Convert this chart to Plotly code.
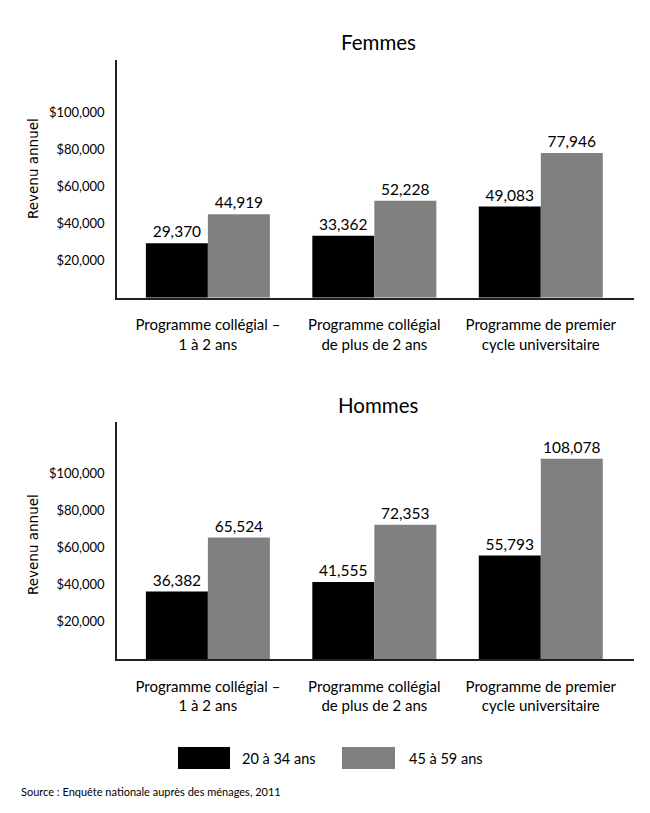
import plotly.graph_objects as go

categories = ["Programme collégial –<br>1 à 2 ans",
              "Programme collégial<br>de plus de 2 ans",
              "Programme de premier<br>cycle universitaire"]
series_names = ["20 à 34 ans", "45 à 59 ans"]
femmes_jeunes = [29370, 33362, 49083]
femmes_agees = [44919, 52228, 77946]
hommes_jeunes = [36382, 41555, 55793]
hommes_ages = [65524, 72353, 108078]
panel_titles = ["Femmes", "Hommes"]
y_title = "Revenu annuel"
y_ticks = [20000, 40000, 60000, 80000, 100000]
y_ticktext = ["$20,000", "$40,000", "$60,000", "$80,000", "$100,000"]
source_text = "Source : Enquête nationale auprès des ménages, 2011"

colors = ["#000000", "#808080"]
FONT = "Lato"
W, H = 650, 813

def px(v): return v / W
def py(v): return 1 - v / H

fig = go.Figure()
xs = list(range(len(categories)))
panels = [(femmes_jeunes, femmes_agees), (hommes_jeunes, hommes_ages)]
for i, (a, b) in enumerate(panels):
    ax = "" if i == 0 else "2"
    for j, vals in enumerate((a, b)):
        fig.add_trace(go.Bar(
            x=xs, y=vals, name=series_names[j], marker_color=colors[j],
            marker_line_width=0, text=[f"{v:,}" for v in vals],
            textposition="outside", textfont=dict(family=FONT, size=15.5, color="#000"),
            cliponaxis=False, showlegend=False, hoverinfo="skip",
            xaxis="x" + ax, yaxis="y" + ax))

panel_px = [(60, 297.7), (421.7, 659)]
common_x = dict(range=[-0.546, 2.56], tickvals=xs, ticktext=categories,
                showline=True, linecolor="#222", linewidth=1.5, ticks="",
                showgrid=False, zeroline=False, ticklabelstandoff=13,
                tickfont=dict(family=FONT, size=15, color="#000"),
                domain=[px(117), px(634)], fixedrange=True)
common_y = dict(range=[0, 128000], tickmode="array", tickvals=y_ticks, ticktext=y_ticktext,
                showline=True, linecolor="#222", linewidth=1.5, ticks="",
                showgrid=False, zeroline=False, ticklabelstandoff=8,
                tickfont=dict(family=FONT, size=13, color="#000"), fixedrange=True)
fig.update_layout(
    xaxis=dict(**common_x, anchor="y"),
    yaxis=dict(**common_y, anchor="x", domain=[py(panel_px[0][1]), py(panel_px[0][0])]),
    xaxis2=dict(**common_x, anchor="y2"),
    yaxis2=dict(**common_y, anchor="x2", domain=[py(panel_px[1][1]), py(panel_px[1][0])]),
)

ann = []
shapes = []
title_y = [42, 405]
ytitle_y = [169, 545]
for i in range(2):
    ann.append(dict(text=panel_titles[i], x=px(378), y=py(title_y[i]), xref="paper", yref="paper",
                    showarrow=False, font=dict(family=FONT, size=20.5, color="#000"),
                    xanchor="center", yanchor="middle"))
    ann.append(dict(text=y_title, x=px(33), y=py(ytitle_y[i]), xref="paper", yref="paper",
                    showarrow=False, textangle=-90, font=dict(family="DejaVu Sans", size=13.5, color="#000"),
                    xanchor="center", yanchor="middle"))

leg_boxes = [(178, 230), (342, 395)]
leg_text_x = [240, 407]
for j in range(2):
    x0, x1 = leg_boxes[j]
    shapes.append(dict(type="rect", xref="paper", yref="paper", x0=px(x0), x1=px(x1),
                       y0=py(769), y1=py(747), fillcolor=colors[j], line_width=0))
    ann.append(dict(text=series_names[j], x=px(leg_text_x[j]), y=py(758), xref="paper", yref="paper",
                    showarrow=False, xanchor="left", yanchor="middle",
                    font=dict(family=FONT, size=14.5, color="#000")))

ann.append(dict(text=source_text, x=px(19), y=py(791), xref="paper", yref="paper",
                showarrow=False, xanchor="left", yanchor="middle",
                font=dict(family=FONT, size=11, color="#000")))

fig.update_layout(width=W, height=H, autosize=False, margin=dict(l=0, r=0, t=0, b=0),
                  paper_bgcolor="white", plot_bgcolor="white",
                  barmode="group", bargap=0.255, bargroupgap=0,
                  annotations=ann, shapes=shapes, showlegend=False)

fig.write_html("out.html", config={"responsive": False, "displayModeBar": False},
               post_script="document.body.style.margin='0';document.body.style.padding='0';"
                           "document.body.style.overflow='hidden';")
